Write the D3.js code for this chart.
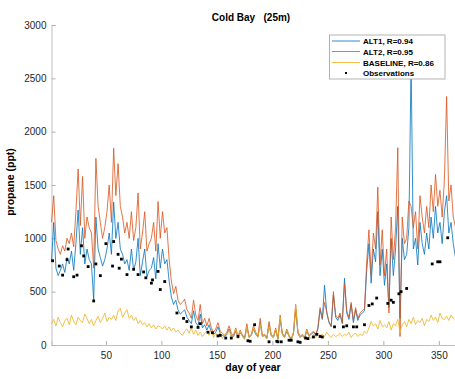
<!DOCTYPE html>
<html>
<head>
<meta charset="utf-8">
<script src="https://cdn.jsdelivr.net/npm/d3@7"></script>
<style>
  body { margin: 0; background: #fff; }
  svg { font-family: "Liberation Sans", Arial, sans-serif; }
</style>
</head>
<body>
<script>
// model output every 2nd day, starting at day 1
const alt1 = [
  780, 1150, 720, 650, 700, 760, 680, 820, 760, 880,
  700, 950, 1265, 850, 1100, 760, 900, 800, 760, 420,
  1200, 900, 820, 740, 800, 900, 1050, 850, 1340, 1000,
  1150, 900, 850, 760, 800, 700, 900, 700, 780, 1000,
  650, 780, 900, 640, 700, 720, 820, 620, 950, 720,
  900, 760, 800, 600, 450, 380, 420, 330, 290, 310,
  330, 260, 230, 200, 320, 210, 180, 290, 160, 190,
  140, 190, 120, 100, 120, 170, 110, 90, 80, 100,
  150, 90, 80, 130, 70, 120, 85, 60, 170, 70,
  90, 150, 100, 75, 210, 80, 90, 60, 190, 85,
  70, 140, 55, 240, 100, 70, 130, 80, 55, 100,
  330, 110, 70, 90, 60, 130, 80, 100, 120, 90,
  150, 330, 240, 560, 300, 210, 170, 470, 260, 230,
  280, 200, 625, 300, 240, 380, 210, 330, 230, 280,
  300, 320, 700, 950, 580, 900, 780, 1250, 650, 900,
  560, 760, 350, 1000, 650, 900, 1300, 250, 1000, 800,
  850, 1100, 2650, 900, 1000, 750, 1150, 950, 850, 1050,
  900, 1200, 1000, 1300, 1050, 1150, 950, 1250, 1400, 1050,
  1150, 950, 820
];
const alt2 = [
  1150, 1400, 980, 900, 850, 930, 880, 1000, 950, 1050,
  920, 1250, 1650, 1120, 1580, 1000, 1200, 1100, 1050, 720,
  1750, 1300, 1150, 1000, 1100, 1250, 1500, 1150, 1845, 1400,
  1700, 1300, 1200, 1050, 1150, 1000, 1250, 980, 1100, 1425,
  900, 1050, 1250, 880, 950, 1000, 1150, 880, 1345, 1000,
  1250, 1050, 1100, 800, 600, 480, 550, 420, 380, 400,
  430, 330, 300, 250, 420, 280, 230, 380, 200, 250,
  180, 250, 160, 120, 150, 210, 130, 110, 90, 120,
  180, 110, 90, 160, 80, 140, 95, 70, 200, 80,
  100, 180, 120, 85, 250, 90, 100, 70, 220, 95,
  80, 160, 60, 280, 110, 80, 150, 90, 60, 120,
  380, 130, 80, 100, 70, 150, 90, 110, 130, 100,
  160, 350, 250, 400, 310, 220, 180, 500, 280, 250,
  300, 210, 580, 320, 260, 400, 230, 350, 250, 300,
  320, 340, 780, 1080, 650, 1050, 900, 1480, 750, 1080,
  650, 900, 300, 1200, 800, 1100, 1850, 80, 1200, 950,
  1000, 1350, 1300, 1100, 1250, 900, 1400, 1200, 1050, 1300,
  1100, 1500, 1250, 1600, 1300, 1450, 1200, 1550, 2330, 1350,
  1500, 1200, 1100
];
const baseline = [
  200, 240, 180, 260, 210, 170, 230, 250, 190, 280,
  220, 190, 260, 230, 210, 290, 250, 200, 240, 180,
  230, 270, 210, 250, 300, 220, 260, 240, 280, 230,
  320, 345, 260, 300, 330, 250, 280, 230, 260, 200,
  230, 190, 210, 170, 200, 160, 190, 150, 180, 170,
  150, 180, 140, 170, 130, 160, 120, 140, 110, 90,
  130, 150, 110, 160, 100, 140, 90, 120, 80, 110,
  130, 90, 150, 70, 110, 80, 120, 60, 100, 90,
  140, 70, 100, 150, 60, 120, 80, 50, 170, 70,
  90, 160, 110, 70, 200, 80, 90, 60, 180, 90,
  70, 150, 50, 260, 100, 70, 140, 80, 50, 110,
  370, 120, 70, 90, 60, 140, 80, 60, 100, 70,
  110, 90, 100, 80, 120, 90, 70, 100, 80, 90,
  110, 80, 100, 90, 120, 70, 100, 110, 80, 100,
  90, 130, 110, 160, 220, 180, 200, 150, 230, 170,
  190, 160, 220, 140, 200, 180, 240, 120, 190, 220,
  170, 240, 200, 260, 190, 230, 210, 250, 180, 240,
  220, 280, 230, 260, 210, 300, 250, 240, 270, 230,
  280, 250, 240
];
const obsDays = [2, 8, 11, 15, 16, 21, 24, 28, 30, 34, 39, 41, 45, 50, 56, 57, 61, 62, 64, 69,
  75, 79, 84, 86, 91, 92, 97, 99, 103, 114, 120, 123, 127, 133, 135, 142, 146, 151, 153, 158,
  163, 169, 178, 180, 184, 197, 204, 205, 208, 215, 217, 223, 225, 230, 232, 237, 240, 243, 245, 256,
  264, 267, 273, 276, 283, 287, 290, 294, 304, 307, 309, 314, 316, 321, 344, 349, 351, 358];
const obsValues = [790, 740, 655, 800, 900, 640, 655, 930, 835, 735, 413, 760, 650, 950, 740, 970, 850, 720, 805, 660,
  710, 660, 685, 630, 580, 610, 690, 520, 595, 300, 250, 220, 170, 165, 200, 120, 115, 85, 90, 65,
  65, 80, 40, 35, 190, 30, 35, 30, 30, 45, 45, 30, 25, 65, 60, 75, 100, 80, 75, 170,
  170, 180, 170, 170, 190, 370, 385, 440, 390, 420, 400, 480, 500, 530, 760, 780, 780, 1005];

const xTicks = [50, 100, 150, 200, 250, 300, 350];
const yTicks = [0, 500, 1000, 1500, 2000, 2500, 3000];
const seriesNames = ["ALT1, R=0.94", "ALT2, R=0.95", "BASELINE, R=0.86", "Observations"];
const colors = ["#0072BD", "#D95319", "#EDB120", "#000000"];

const width = 455, height = 379;
const svg = d3.select("body").append("svg")
  .attr("width", width)
  .attr("height", height);

const x = d3.scaleLinear().domain([1, 365]).range([51.5, 455.5]);
const y = d3.scaleLinear().domain([0, 3000]).range([345, 25]);

// axes (matlab style, ticks inside)
const xAxis = svg.append("g")
  .attr("transform", `translate(0,${y(0)})`)
  .call(d3.axisBottom(x).tickValues(xTicks).tickFormat(d3.format("d")).tickSize(-4).tickPadding(7));
const yAxis = svg.append("g")
  .attr("transform", `translate(${x(1)},0)`)
  .call(d3.axisLeft(y).tickValues(yTicks).tickFormat(d3.format("d")).tickSize(-4).tickPadding(5));
[xAxis, yAxis].forEach(g => {
  g.select(".domain").attr("stroke", "#c0c0c0");
  g.selectAll(".tick line").attr("stroke", "#b0b0b0");
  g.selectAll(".tick text").attr("fill", "#262626").attr("font-size", 10);
});

const line = d3.line()
  .x((d, i) => x(1 + 2 * i))
  .y(d => y(d));

const plot = svg.append("g");
[alt1, alt2, baseline].forEach((s, k) => {
  plot.append("path")
    .datum(s)
    .attr("fill", "none")
    .attr("stroke", colors[k])
    .attr("stroke-width", 0.8)
    .attr("stroke-linejoin", "round")
    .attr("d", line);
});

plot.selectAll("rect.obs")
  .data(obsDays)
  .join("rect")
  .attr("class", "obs")
  .attr("x", (d) => x(d) - 1.4)
  .attr("y", (d, i) => y(obsValues[i]) - 1.4)
  .attr("width", 2.8)
  .attr("height", 2.8)
  .attr("fill", "#000");

// title and labels
svg.append("text")
  .attr("x", 251).attr("y", 21)
  .attr("text-anchor", "middle")
  .attr("font-size", 10).attr("font-weight", "bold")
  .attr("xml:space", "preserve")
  .text("Cold Bay   (25m)");

svg.append("text")
  .attr("x", 253).attr("y", 371)
  .attr("text-anchor", "middle")
  .attr("font-size", 10.5).attr("font-weight", "bold")
  .text("day of year");

svg.append("text")
  .attr("transform", "translate(14,182) rotate(-90)")
  .attr("text-anchor", "middle")
  .attr("font-size", 10.5).attr("font-weight", "bold")
  .text("propane (ppt)");

// legend
const leg = svg.append("g");
leg.append("rect")
  .attr("x", 329.5).attr("y", 35)
  .attr("width", 115.5).attr("height", 44)
  .attr("fill", "#fff")
  .attr("stroke", "#a0a0a0")
  .attr("stroke-width", 0.8);
const rowY = [41, 51.5, 62.5, 73];
seriesNames.forEach((name, i) => {
  if (i < 3) {
    leg.append("line")
      .attr("x1", 332).attr("x2", 360)
      .attr("y1", rowY[i]).attr("y2", rowY[i])
      .attr("stroke", colors[i]).attr("stroke-width", 0.8);
  } else {
    leg.append("rect")
      .attr("x", 345).attr("y", rowY[i] - 1)
      .attr("width", 2).attr("height", 2)
      .attr("fill", "#000");
  }
  leg.append("text")
    .attr("x", 363).attr("y", rowY[i] + 3)
    .attr("font-size", 8).attr("font-weight", "bold")
    .text(name);
});
</script>
</body>
</html>
